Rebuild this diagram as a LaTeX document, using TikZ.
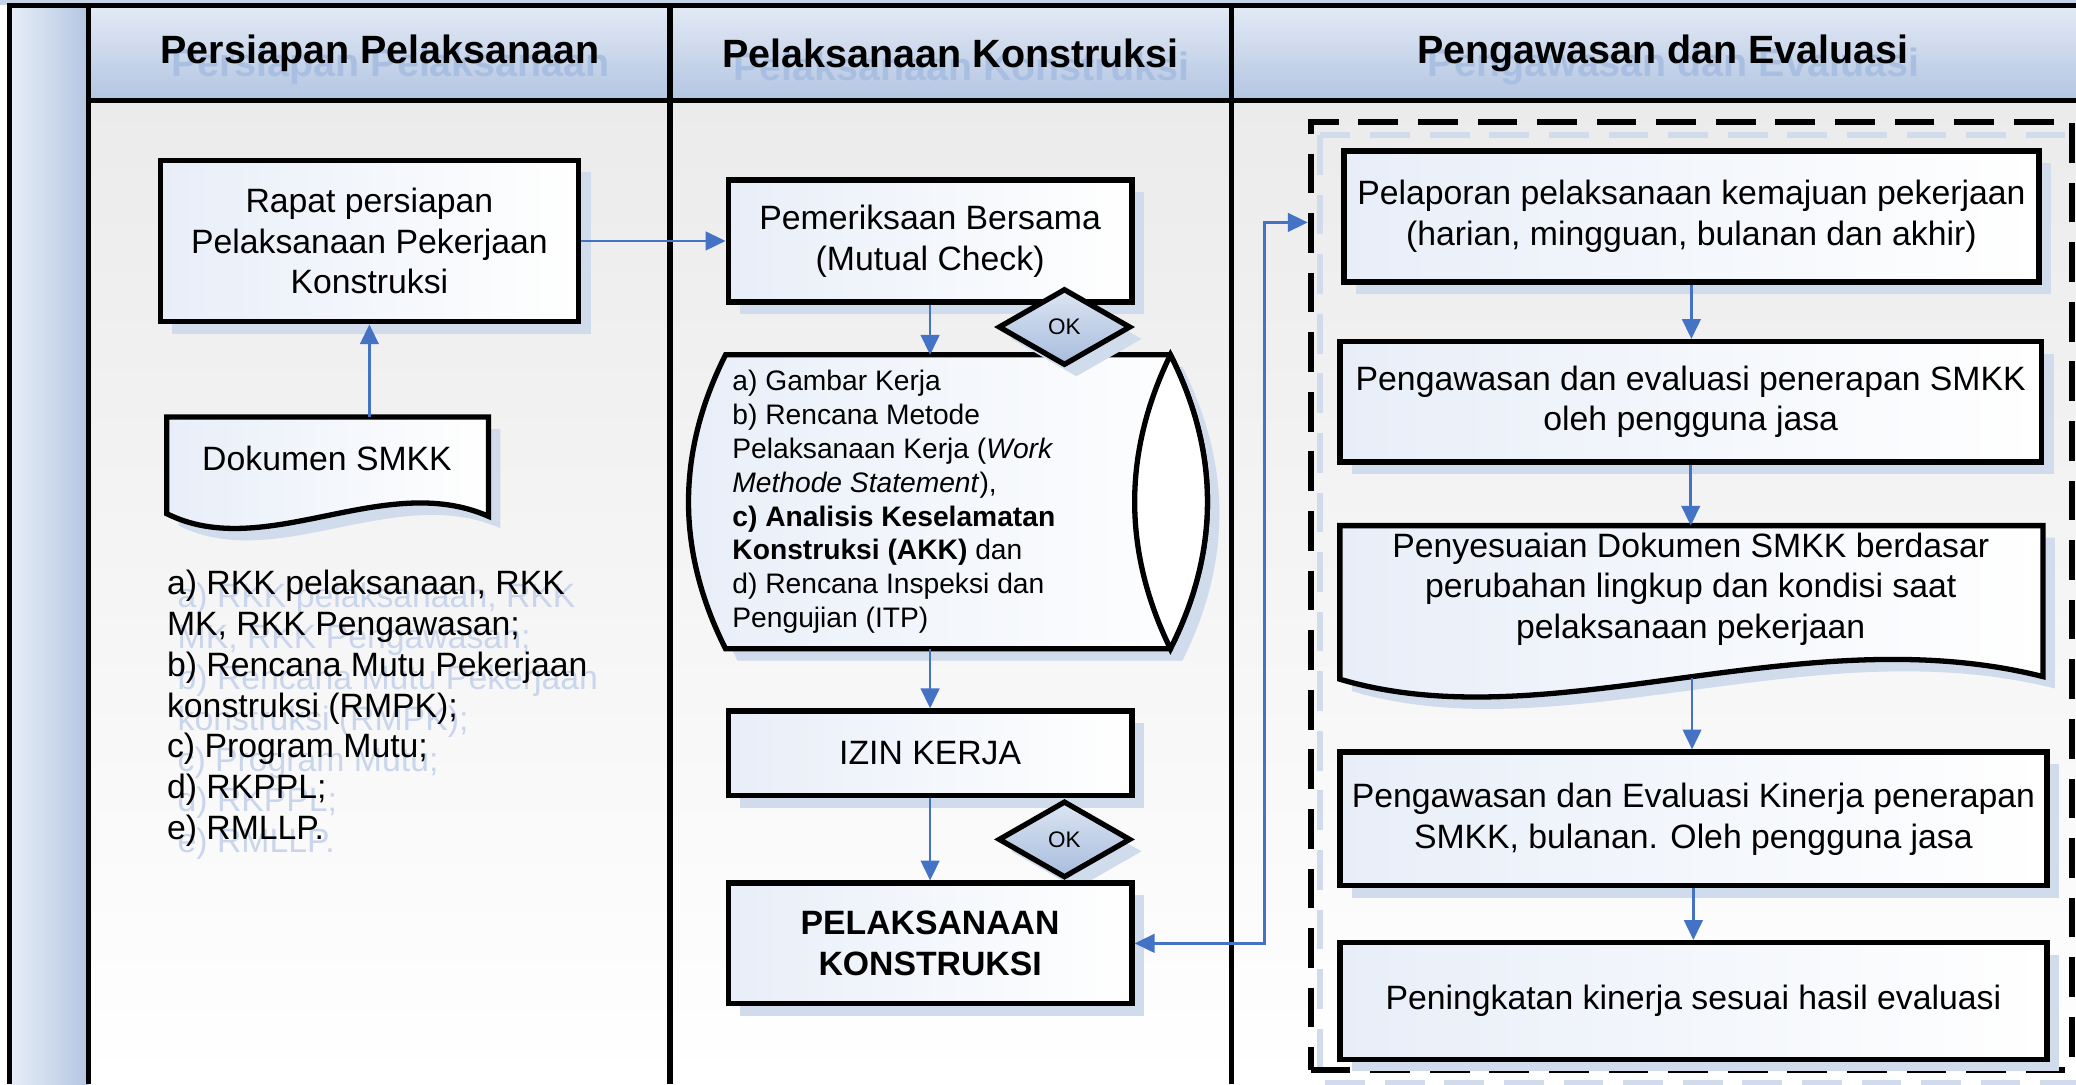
\documentclass[tikz,border=0pt]{standalone}
\usepackage{fontspec}
\setmainfont{Liberation Sans}
\usetikzlibrary{arrows.meta,shapes.geometric,shadows,calc}

\definecolor{flowblue}{HTML}{4472C4}
\definecolor{boxl}{HTML}{E8EEF8}
\definecolor{shadowc}{HTML}{D0DBEC}
\definecolor{headtop}{HTML}{E4EAF5}
\definecolor{headbot}{HTML}{B2C5E2}
\definecolor{bandl}{HTML}{E8EEF7}
\definecolor{bandr}{HTML}{B4C6E2}
\definecolor{ghosthead}{HTML}{A9BFE1}
\definecolor{ghostlist}{HTML}{C8D5EC}
\definecolor{diatop}{HTML}{DCE5F2}
\definecolor{diabot}{HTML}{A7BCDD}
\definecolor{bgtop}{HTML}{EBEBEB}
\definecolor{topstrip}{HTML}{C6D3E7}

\newcommand\fbody{\fontsize{25.5}{30.8}\selectfont}
\newcommand\fcyl{\fontsize{21.3}{25.6}\selectfont}
\newcommand\fhead{\bfseries\fontsize{29.8}{34}\selectfont}
\newcommand\fok{\fontsize{17}{20}\selectfont}

\tikzset{
  boxshadow/.style={drop shadow={shadow xshift=9pt, shadow yshift=-9pt, fill=shadowc, opacity=1}},
  stepbox/.style={draw=black, line width=4, left color=boxl, right color=white,
    boxshadow, font=\fbody, align=center, inner sep=0},
  shapebody/.style={draw=black, line width=4, left color=boxl, right color=white, boxshadow},
  okmark/.style={diamond, draw=black, line width=4, top color=diatop, bottom color=diabot,
    minimum width=100, minimum height=58, inner sep=0, font=\fok, boxshadow},
  colline/.style={line width=4, draw=black},
  headtext/.style={font=\fhead, text=black},
  headghost/.style={font=\fhead, text=ghosthead},
  flow/.style={draw=flowblue, line width=2, -{Triangle[length=15pt,width=14pt]}},
  flowboth/.style={draw=flowblue, line width=2,
    {Triangle[length=15pt,width=14pt]}-{Triangle[length=15pt,width=14pt]}},
  groupbox/.style={draw=black, line width=4.5, dash pattern=on 30pt off 15pt,
    minimum width=575, minimum height=716, inner sep=0},
  groupghost/.style={draw=shadowc, line width=4, dash pattern=on 30pt off 15pt},
  anchorbox/.style={inner sep=0, outer sep=0},
}

\begin{document}
\begin{tikzpicture}[x=1pt,y=-1pt]
\useasboundingbox (0,0) rectangle (1568,819);

% page background and lanes
\fill[white] (0,0) rectangle (1568,819);
\fill[top color=bgtop, bottom color=white] (67,76) rectangle (1568,819);
\fill[topstrip] (0,0) rectangle (1568,4);
\fill[top color=headtop, bottom color=headbot] (67,4) rectangle (1568,76);
\fill[left color=bandl, right color=bandr] (7,4) rectangle (67,819);

% header captions with their soft shadow
\node[headghost] (g1) at (295,50) {Persiapan Pelaksanaan};
\node[headghost] (g2) at (726,50) {Pelaksanaan Konstruksi};
\node[headghost] (g3) at (1264,50) {Pengawasan dan Evaluasi};
\node[headtext] (h1) at (287,40) {Persiapan Pelaksanaan};
\node[headtext] (h2) at (718,40) {Pelaksanaan Konstruksi};
\node[headtext] (h3) at (1256,40) {Pengawasan dan Evaluasi};

% lane grid
\draw[colline] (7,819) -- (7,4) -- (1568,4);
\draw[colline] (67,4) -- (67,819);
\draw[colline] (506,4) -- (506,819);
\draw[colline] (930,4) -- (930,819);
\draw[colline] (67,76) -- (1568,76);

% ---------- lane 1 ----------
\node[stepbox, minimum width=316, minimum height=122] (rapat) at (279,182)
  {Rapat persiapan\\Pelaksanaan Pekerjaan\\Konstruksi};

\path[shapebody] (126,315) -- (369,315) -- (369,390)
  .. controls (290,355) and (200,425) .. (126,388) -- cycle;
\node[anchorbox, minimum width=243, minimum height=75] (dok) at (247.5,352.5) {};
\node[font=\fbody] (doktxt) at (247,346) {Dokumen SMKK};

\node[font=\fbody, text=ghostlist, align=left, anchor=west, inner sep=0] (listghost) at (134,545)
  {a) RKK pelaksanaan, RKK\\MK, RKK Pengawasan;\\b) Rencana Mutu Pekerjaan\\konstruksi (RMPK);\\c) Program Mutu;\\d) RKPPL;\\e) RMLLP.};
\node[font=\fbody, align=left, anchor=west, inner sep=0] (list) at (126,535)
  {a) RKK pelaksanaan, RKK\\MK, RKK Pengawasan;\\b) Rencana Mutu Pekerjaan\\konstruksi (RMPK);\\c) Program Mutu;\\d) RKPPL;\\e) RMLLP.};

% ---------- lane 2 ----------
\node[stepbox, minimum width=305, minimum height=92] (pem) at (702.5,182)
  {Pemeriksaan Bersama\\(Mutual Check)};

\path[shapebody] (548,268) -- (884,268)
  .. controls (921.3,342) and (921.3,416) .. (884,490) -- (548,490)
  .. controls (510.7,416) and (510.7,342) .. (548,268) -- cycle;
\draw[line width=4, fill=white] (884,268)
  .. controls (921.3,342) and (921.3,416) .. (884,490)
  .. controls (848,416) and (848,342) .. (884,268) -- cycle;
\node[anchorbox, minimum width=392, minimum height=222] (cyl) at (716,379) {};
\node[font=\fcyl, align=left, anchor=west, inner sep=0] (cyltxt) at (553,379)
  {a) Gambar Kerja\\b) Rencana Metode\\Pelaksanaan Kerja (\textit{Work}\\\textit{Methode Statement}),\\\textbf{c) Analisis Keselamatan}\\\textbf{Konstruksi (AKK)} dan\\d) Rencana Inspeksi dan\\Pengujian (ITP)};

\node[okmark] (ok1) at (804,247) {OK};

\node[stepbox, minimum width=305, minimum height=64] (izin) at (702.5,569) {IZIN KERJA};
\node[okmark] (ok2) at (804,634) {OK};
\node[stepbox, minimum width=305, minimum height=91, font=\fbody\bfseries] (pk) at (702.5,712.5)
  {PELAKSANAAN\\KONSTRUKSI};

% ---------- lane 3 ----------
\draw[groupghost] (997,102) rectangle (1575,818);
\node[groupbox] (grp) at (1277.5,450) {};

\node[stepbox, minimum width=525, minimum height=99] (lap) at (1277.5,163.5)
  {Pelaporan pelaksanaan kemajuan pekerjaan\\(harian, mingguan, bulanan dan akhir)};
\node[stepbox, minimum width=530, minimum height=91] (awas) at (1277,303.5)
  {Pengawasan dan evaluasi penerapan SMKK\\oleh pengguna jasa};

\path[shapebody] (1012,397) -- (1543,397) -- (1543,511)
  .. controls (1360,465) and (1170,560) .. (1012,513) -- cycle;
\node[anchorbox, minimum width=531, minimum height=116] (peny) at (1277.5,455) {};
\coordinate (penyout) at (1278,512);
\node[font=\fbody, align=center] (penytxt) at (1277,445)
  {Penyesuaian Dokumen SMKK berdasar\\perubahan lingkup dan kondisi saat\\pelaksanaan pekerjaan};

\node[stepbox, minimum width=534, minimum height=101] (kin) at (1279,618.5)
  {Pengawasan dan Evaluasi Kinerja penerapan\\SMKK, bulanan. Oleh pengguna jasa};
\node[stepbox, minimum width=534, minimum height=88] (ting) at (1279,756)
  {Peningkatan kinerja sesuai hasil evaluasi};

% ---------- connectors ----------
\draw[flow] (dok.north -| rapat.south) -- (rapat.south);
\draw[flow] (rapat.east) -- (pem.west);
\draw[flow] (pem.south) -- (pem.south |- cyl.north);
\draw[flow] (cyl.south -| izin.north) -- (izin.north);
\draw[flow] (izin.south) -- (pk.north);

\coordinate (fbtop) at (955,168);
\draw[flowboth] (pk.east) -| (fbtop) -- (fbtop -| grp.west);

\draw[flow] (lap.south) -- (lap.south |- awas.north);
\draw[flow] (awas.south) -- (awas.south |- peny.north);
\draw[flow] (penyout) -- (penyout |- kin.north);
\draw[flow] (kin.south) -- (ting.north);
\end{tikzpicture}
\end{document}
